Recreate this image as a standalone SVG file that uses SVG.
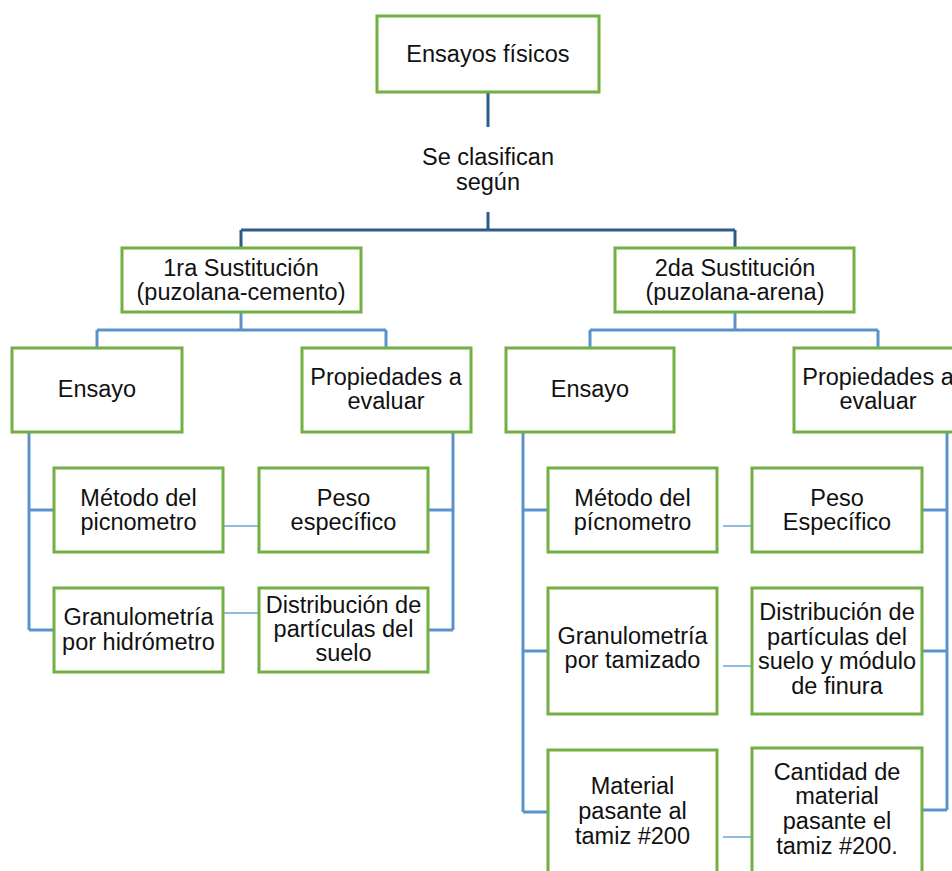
<svg xmlns="http://www.w3.org/2000/svg" width="952" height="871" viewBox="0 0 952 871">
<style>
.box{fill:#fff;stroke:#72B043;stroke-width:3}
.t{font-family:"Liberation Sans",Arial,sans-serif;font-size:23.5px;fill:#111;text-anchor:middle}
.dk{stroke:#2B5C8C;stroke-width:3;fill:none}
.lb{stroke:#5A93CB;stroke-width:3;fill:none}
.th{stroke:#6FA3D6;stroke-width:1.3;fill:none}
</style>
<rect width="952" height="871" fill="#fff"/>
<g id="connectors">
<path class="dk" d="M488 92V127M488 212V230M241 230H735M241 230V248M735 230V248"/>
<path class="lb" d="M241 312V330M97 330H386M97 330V348M386 330V348"/>
<path class="lb" d="M735 312V330M590 330H878M590 330V348M878 330V348"/>
<path class="lb" d="M29 432V630M29 510H54M29 630H54"/>
<path class="lb" d="M453 432V630M453 510H428M453 630H428"/>
<path class="lb" d="M523 432V812M523 510H548M523 651H548M523 812H548"/>
<path class="lb" d="M947 432V810M947 510H922M947 651H922M947 810H922"/>
<path class="th" d="M217 526H259M217 613H259M723 526H757M723 666H757M723 837H757"/>
</g>
<g id="n-root"><rect class="box" x="377" y="16" width="222" height="76"/><text class="t" x="488" y="62">Ensayos físicos</text></g>
<g id="n-label"><text class="t" x="488" y="165">Se clasifican</text><text class="t" x="488" y="190">según</text></g>
<g id="n-s1"><rect class="box" x="122" y="248" width="239" height="64"/><text class="t" x="241" y="276">1ra Sustitución<tspan x="241" y="300">(puzolana-cemento)</tspan></text></g>
<g id="n-s2"><rect class="box" x="615" y="248" width="239" height="64"/><text class="t" x="735" y="276">2da Sustitución<tspan x="735" y="300">(puzolana-arena)</tspan></text></g>
<g id="n-e1"><rect class="box" x="12" y="348" width="170" height="84"/><text class="t" x="97" y="397">Ensayo</text></g>
<g id="n-p1"><rect class="box" x="302" y="348" width="169" height="84"/><text class="t" x="386" y="385">Propiedades a<tspan x="386" y="409">evaluar</tspan></text></g>
<g id="n-e2"><rect class="box" x="506" y="348" width="168" height="84"/><text class="t" x="590" y="397">Ensayo</text></g>
<g id="n-p2"><rect class="box" x="794" y="348" width="169" height="84"/><text class="t" x="878" y="385">Propiedades a<tspan x="878" y="409">evaluar</tspan></text></g>
<g id="n-l1"><rect class="box" x="54" y="468" width="169" height="84"/><text class="t" x="138.5" y="506">Método del<tspan x="138.5" y="530">picnometro</tspan></text></g>
<g id="n-l2"><rect class="box" x="54" y="588" width="169" height="84"/><text class="t" x="138.5" y="625">Granulometría<tspan x="138.5" y="650">por hidrómetro</tspan></text></g>
<g id="n-r1"><rect class="box" x="259" y="468" width="169" height="84"/><text class="t" x="343.5" y="506">Peso<tspan x="343.5" y="530">específico</tspan></text></g>
<g id="n-r2"><rect class="box" x="259" y="588" width="169" height="84"/><text class="t" x="343.5" y="613">Distribución de<tspan x="343.5" y="637">partículas del</tspan><tspan x="343.5" y="661">suelo</tspan></text></g>
<g id="n-l3"><rect class="box" x="548" y="468" width="169" height="84"/><text class="t" x="632.5" y="506">Método del<tspan x="632.5" y="530">pícnometro</tspan></text></g>
<g id="n-l4"><rect class="box" x="548" y="588" width="169" height="126"/><text class="t" x="632.5" y="644">Granulometría<tspan x="632.5" y="668">por tamizado</tspan></text></g>
<g id="n-l5"><rect class="box" x="548" y="750" width="169" height="140"/><text class="t" x="632.5" y="794">Material<tspan x="632.5" y="819">pasante al</tspan><tspan x="632.5" y="844">tamiz #200</tspan></text></g>
<g id="n-r3"><rect class="box" x="752" y="468" width="170" height="84"/><text class="t" x="837" y="506">Peso<tspan x="837" y="530">Específico</tspan></text></g>
<g id="n-r4"><rect class="box" x="752" y="588" width="170" height="126"/><text class="t" x="837" y="620">Distribución de<tspan x="837" y="645">partículas del</tspan><tspan x="837" y="669">suelo y módulo</tspan><tspan x="837" y="694">de finura</tspan></text></g>
<g id="n-r5"><rect class="box" x="752" y="748" width="170" height="142"/><text class="t" x="837" y="780">Cantidad de<tspan x="837" y="804">material</tspan><tspan x="837" y="829">pasante el</tspan><tspan x="837" y="854">tamiz #200.</tspan></text></g>
</svg>
